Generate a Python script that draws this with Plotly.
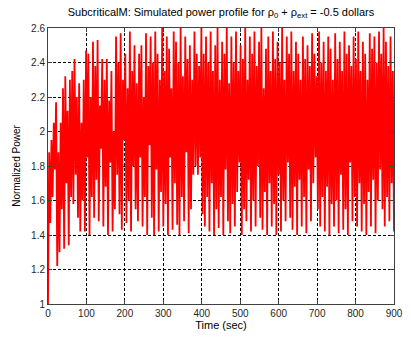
import numpy as np
import plotly.graph_objects as go

t_step = 3
power = [
    1.00, 1.88, 1.47, 1.95, 1.62, 2.05, 1.78, 2.17, 1.22, 1.88,
    1.30, 2.05, 1.55, 2.25, 1.32, 2.32, 1.70, 2.12, 1.34, 2.30,
    1.62, 2.35, 1.58, 2.42, 1.75, 2.20, 1.50, 2.28, 1.42, 2.05,
    1.60, 2.30, 1.42, 2.47, 1.85, 2.45, 1.40, 2.20, 1.62, 2.52,
    1.50, 2.38, 1.72, 2.53, 1.48, 2.15, 1.90, 2.42, 1.45, 2.30,
    1.68, 2.42, 1.40, 2.18, 1.82, 2.35, 1.42, 2.00, 1.55, 2.55,
    1.75, 2.40, 1.52, 2.57, 1.43, 2.30, 1.95, 2.45, 1.47, 2.25,
    1.60, 2.58, 1.42, 2.35, 1.80, 2.50, 1.55, 2.28, 1.48, 2.45,
    1.85, 2.50, 1.45, 2.20, 1.62, 2.57, 1.40, 2.38, 1.92, 2.55,
    1.50, 2.40, 1.40, 2.58, 1.78, 2.45, 1.42, 2.30, 1.65, 2.60,
    1.45, 2.35, 1.58, 2.55, 1.40, 2.48, 1.85, 2.25, 1.43, 2.58,
    1.70, 2.52, 1.46, 2.40, 1.40, 2.60, 1.62, 2.32, 1.48, 2.55,
    1.88, 2.42, 1.41, 2.50, 1.55, 2.30, 1.75, 2.58, 1.80, 2.45,
    1.75, 2.38, 1.85, 2.60, 1.52, 2.45, 1.45, 2.55, 1.62, 2.40,
    1.42, 2.58, 1.70, 2.35, 1.40, 2.50, 1.55, 2.60, 1.44, 2.30,
    1.62, 2.52, 1.40, 2.45, 1.78, 2.60, 1.48, 2.28, 1.41, 2.55,
    1.58, 2.40, 1.45, 2.58, 1.65, 2.35, 1.82, 2.50, 1.40, 2.42,
    1.55, 2.60, 1.48, 2.30, 1.72, 2.55, 1.42, 2.45, 1.60, 2.58,
    1.45, 2.38, 1.80, 2.52, 1.50, 2.60, 1.43, 2.25, 1.65, 2.48,
    1.40, 2.55, 1.70, 2.35, 1.45, 2.58, 1.58, 2.42, 1.40, 2.52,
    1.75, 2.40, 1.42, 2.60, 1.60, 2.30, 1.48, 2.55, 1.82, 2.45,
    1.50, 2.58, 1.43, 2.35, 1.68, 2.52, 1.40, 2.45, 1.72, 2.30,
    1.45, 2.55, 1.62, 2.42, 1.41, 2.50, 1.78, 2.38, 1.48, 2.57,
    1.70, 2.45, 1.85, 2.32, 1.55, 2.58, 1.45, 2.40, 1.62, 2.52,
    1.42, 2.35, 1.68, 2.55, 1.40, 2.48, 1.58, 2.30, 1.45, 2.57,
    1.60, 2.42, 1.41, 2.52, 1.75, 2.35, 1.43, 2.58, 1.55, 2.45,
    1.40, 2.50, 1.82, 2.38, 1.48, 2.55, 1.62, 2.42, 1.45, 2.58,
    1.70, 2.35, 1.42, 2.52, 1.58, 2.45, 1.40, 2.30, 1.65, 2.57,
    1.45, 2.48, 1.72, 2.55, 1.41, 2.40, 1.60, 2.58, 1.78, 2.45,
    1.55, 2.60, 1.45, 2.52, 1.62, 2.38, 1.48, 2.55, 1.70, 2.35,
    1.42,
]
time = [i * t_step for i in range(len(power))]

x_ticks = [0, 100, 200, 300, 400, 500, 600, 700, 800, 900]
y_ticks = [1, 1.2, 1.4, 1.6, 1.8, 2, 2.2, 2.4, 2.6]
y_tick_labels = ["1", "1.2", "1.4", "1.6", "1.8", "2", "2.2", "2.4", "2.6"]

fig = go.Figure()
fig.add_trace(go.Scatter(x=time, y=power, mode="lines",
                         line=dict(color="#ff0000", width=1.8),
                         showlegend=False))

font = dict(family="Liberation Sans, Arial, sans-serif", size=10, color="#262626")
axis_common = dict(
    showline=True, linecolor="#404040", linewidth=1, mirror="ticks",
    ticks="inside", ticklen=4, tickcolor="#404040",
    showgrid=True, gridcolor="#000000", gridwidth=1, griddash="3px,2px",
    zeroline=False, tickfont=font,
)
fig.update_layout(
    width=411, height=337,
    margin=dict(l=48, r=8, t=28, b=30),
    paper_bgcolor="white", plot_bgcolor="white",
    font=font,
    title=dict(text="SubcriticalM: Simulated power profile for ρ<sub>0</sub> + ρ<sub>ext</sub> = -0.5 dollars",
               x=0.5, xref="paper", xanchor="center", y=0.975, yref="container",
               yanchor="top", font=dict(family="Liberation Sans, Arial, sans-serif", size=11, color="#000000")),
    xaxis=dict(range=[0, 900], tickvals=x_ticks, ticklabeloverflow="allow",
               title=dict(text="Time (sec)", standoff=2,
                          font=dict(family="Liberation Sans, Arial, sans-serif", size=11, color="#000000")),
               **axis_common),
    yaxis=dict(range=[1, 2.6], tickvals=y_ticks, ticktext=y_tick_labels,
               title=dict(text="Normalized Power", standoff=8,
                          font=dict(family="Liberation Sans, Arial, sans-serif", size=10, color="#000000")),
               **axis_common),
)
fig.write_html("out.html")
